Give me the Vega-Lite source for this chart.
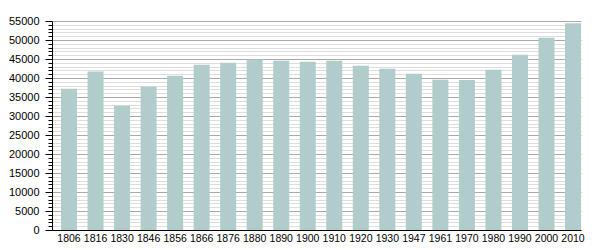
{
  "$schema": "https://vega.github.io/schema/vega-lite/v6.json",
  "width": 529,
  "height": 209,
  "autosize": {"type": "none"},
  "padding": {"left": 52, "top": 21, "right": 19, "bottom": 20},
  "background": "white",
  "data": {"values": [
    {"year": "1806", "pop": 37200},
    {"year": "1816", "pop": 41700},
    {"year": "1830", "pop": 32700},
    {"year": "1846", "pop": 37700},
    {"year": "1856", "pop": 40600},
    {"year": "1866", "pop": 43500},
    {"year": "1876", "pop": 44000},
    {"year": "1880", "pop": 44900},
    {"year": "1890", "pop": 44550},
    {"year": "1900", "pop": 44300},
    {"year": "1910", "pop": 44550},
    {"year": "1920", "pop": 43200},
    {"year": "1930", "pop": 42450},
    {"year": "1947", "pop": 41100},
    {"year": "1961", "pop": 39550},
    {"year": "1970", "pop": 39500},
    {"year": "1980", "pop": 42200},
    {"year": "1990", "pop": 46100},
    {"year": "2000", "pop": 50600},
    {"year": "2010", "pop": 54400}
  ]},
  "mark": {"type": "bar", "color": "#b0cccb"},
  "encoding": {
    "x": {
      "field": "year", "type": "ordinal", "sort": null,
      "scale": {"paddingInner": 0.397, "paddingOuter": 0.17, "align": 1},
      "axis": {
        "title": null, "labelAngle": 0, "ticks": false, "domainColor": "#000",
        "labelFont": "Liberation Sans", "labelFontSize": 10.5, "labelColor": "#000",
        "labelPadding": 3, "grid": false
      }
    },
    "y": {
      "field": "pop", "type": "quantitative",
      "scale": {"domain": [0, 55000], "nice": false},
      "axis": {
        "title": null,
        "values": [0,1000,2000,3000,4000,5000,6000,7000,8000,9000,10000,11000,12000,13000,14000,15000,16000,17000,18000,19000,20000,21000,22000,23000,24000,25000,26000,27000,28000,29000,30000,31000,32000,33000,34000,35000,36000,37000,38000,39000,40000,41000,42000,43000,44000,45000,46000,47000,48000,49000,50000,51000,52000,53000,54000,55000],
        "labelExpr": "datum.value % 5000 === 0 ? datum.value : ''",
        "format": "d",
        "grid": true,
        "gridColor": {"condition": {"test": "datum.value % 5000 === 0", "value": "#aaaaaa"}, "value": "#dedede"},
        "tickColor": "#000",
        "tickSize": {"condition": {"test": "datum.value % 5000 === 0", "value": 7}, "value": 4},
        "domainColor": "#000",
        "labelFont": "Liberation Sans", "labelFontSize": 11, "labelColor": "#000",
        "labelPadding": 6
      }
    }
  },
  "config": {"view": {"stroke": null}}
}
